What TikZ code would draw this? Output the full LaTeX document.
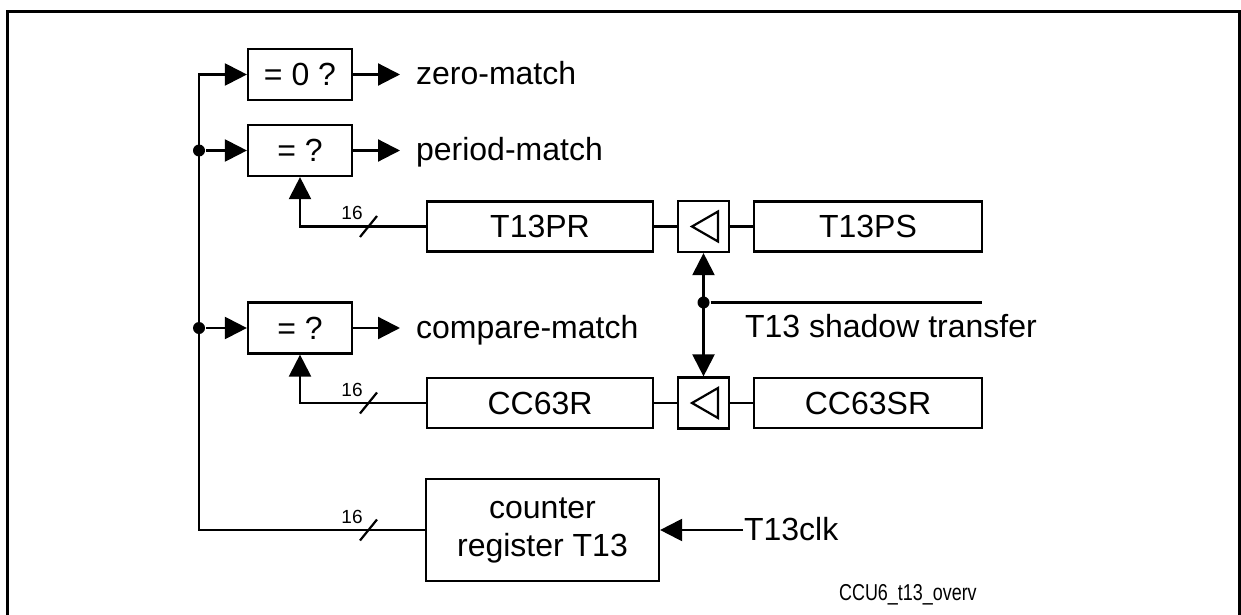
\documentclass[tikz,border=0pt]{standalone}
\usepackage{fontspec}
\setmainfont{Liberation Sans}
\newfontfamily\narrowfont[FakeStretch=0.78]{Liberation Sans}
\usetikzlibrary{arrows.meta}

\begin{document}
\begin{tikzpicture}[
    x=25pt, y=25pt,
    line width=1.1pt,
    font=\fontsize{16pt}{19pt}\selectfont,
    >={Triangle[length=11pt,width=11pt]},
    cmp/.style={rectangle, draw, minimum width=52pt, minimum height=25.5pt, inner sep=0pt},
    reg/.style={rectangle, draw, minimum width=113pt, minimum height=25pt, inner sep=0pt},
    latch/.style={rectangle, draw, minimum size=25.5pt, inner sep=0pt},
    dot/.style={circle, fill, minimum size=6pt, inner sep=0pt},
    sig/.style={anchor=base west, inner sep=0pt, inner xsep=7.5pt},
    buswidth/.pic={
        \draw (-0.17,-0.21) -- (0.17,0.21);
        \node[font=\fontsize{9.5pt}{11pt}\selectfont] at (-0.33,0.27) {16};
    }
]
    \useasboundingbox (0,0) rectangle (24.82,-12.3);

    % Marco
    \draw[line width=1.5pt] (0.15,-12.4) -- (0.15,-0.226) -- (24.79,-0.226) -- (24.79,-12.4);

    % Comparadores
    \node[cmp] (zero) at (6,-1.49) {= 0 ?};
    \node[cmp] (period) at (6,-3.01) {= ?};
    \node[cmp] (compare) at (6,-6.56) {= ?};

    % Registros
    \node[reg] (t13pr) at (10.8,-4.53) {T13PR};
    \node[latch] (s1) at (14.07,-4.53) {};
    \node[reg, minimum width=114pt] (t13ps) at (17.36,-4.53) {T13PS};
    \node[reg] (cc63r) at (10.8,-8.06) {CC63R};
    \node[latch] (s2) at (14.07,-8.06) {};
    \node[reg, minimum width=114pt] (cc63sr) at (17.36,-8.06) {CC63SR};
    \node[reg, minimum width=116.5pt, minimum height=51pt, align=center] (counter) at (10.85,-10.6) {counter\\register T13};

    % Salidas
    \node[sig] (zm) at (8.0,-1.69) {zero-match};
    \node[sig] (pm) at (8.0,-3.21) {period-match};
    \node[sig] (cm) at (8.0,-6.76) {compare-match};
    \draw[->] (zero) -- (zero.east -| zm.west);
    \draw[->] (period) -- (period.east -| pm.west);
    \draw[->] (compare) -- (compare.east -| cm.west);

    % Bus
    \coordinate (bustop) at (3.98,-1.49);
    \draw[->] (counter.west) -| (bustop) -- (zero.west);
    \node[dot] (j1) at (bustop |- period.west) {};
    \node[dot] (j2) at (bustop |- compare.west) {};
    \draw[->] (j1) -- (period);
    \draw[->] (j2) -- (compare);
    \draw[->] (t13pr) -| (period);
    \draw[->] (cc63r) -| (compare);
    \pic at (7.37,-4.53) {buswidth};
    \pic at (7.37,-8.06) {buswidth};
    \pic at (7.37,-10.6) {buswidth};

    % Shadow transfer
    \draw (t13pr) -- (s1) -- (t13ps);
    \draw (cc63r) -- (s2) -- (cc63sr);
    \foreach \s in {s1,s2}
        \draw[shift={(\s.center)}] (-0.23,0) -- (0.29,0.3) -- (0.29,-0.3) -- cycle;
    \draw[<->] (s1) -- (s2);
    \node[dot] (j3) at (14.07,-6.05) {};
    \coordinate (shend) at (19.64,-6.05);
    \draw (j3) -- (shend);
    \node[sig] (shtext) at (14.58,-6.74) {T13 shadow transfer};

    % Reloj
    \node[sig, inner xsep=0pt] (clk) at (14.86,-10.8) {T13clk};
    \draw[->] (clk.west |- counter.east) -- (counter);

    \node[anchor=base west, inner sep=0pt, font=\narrowfont\fontsize{11.5pt}{13pt}\selectfont] (figid) at (16.76,-12.01) {CCU6\_t13\_overv};

\end{tikzpicture}
\end{document}
